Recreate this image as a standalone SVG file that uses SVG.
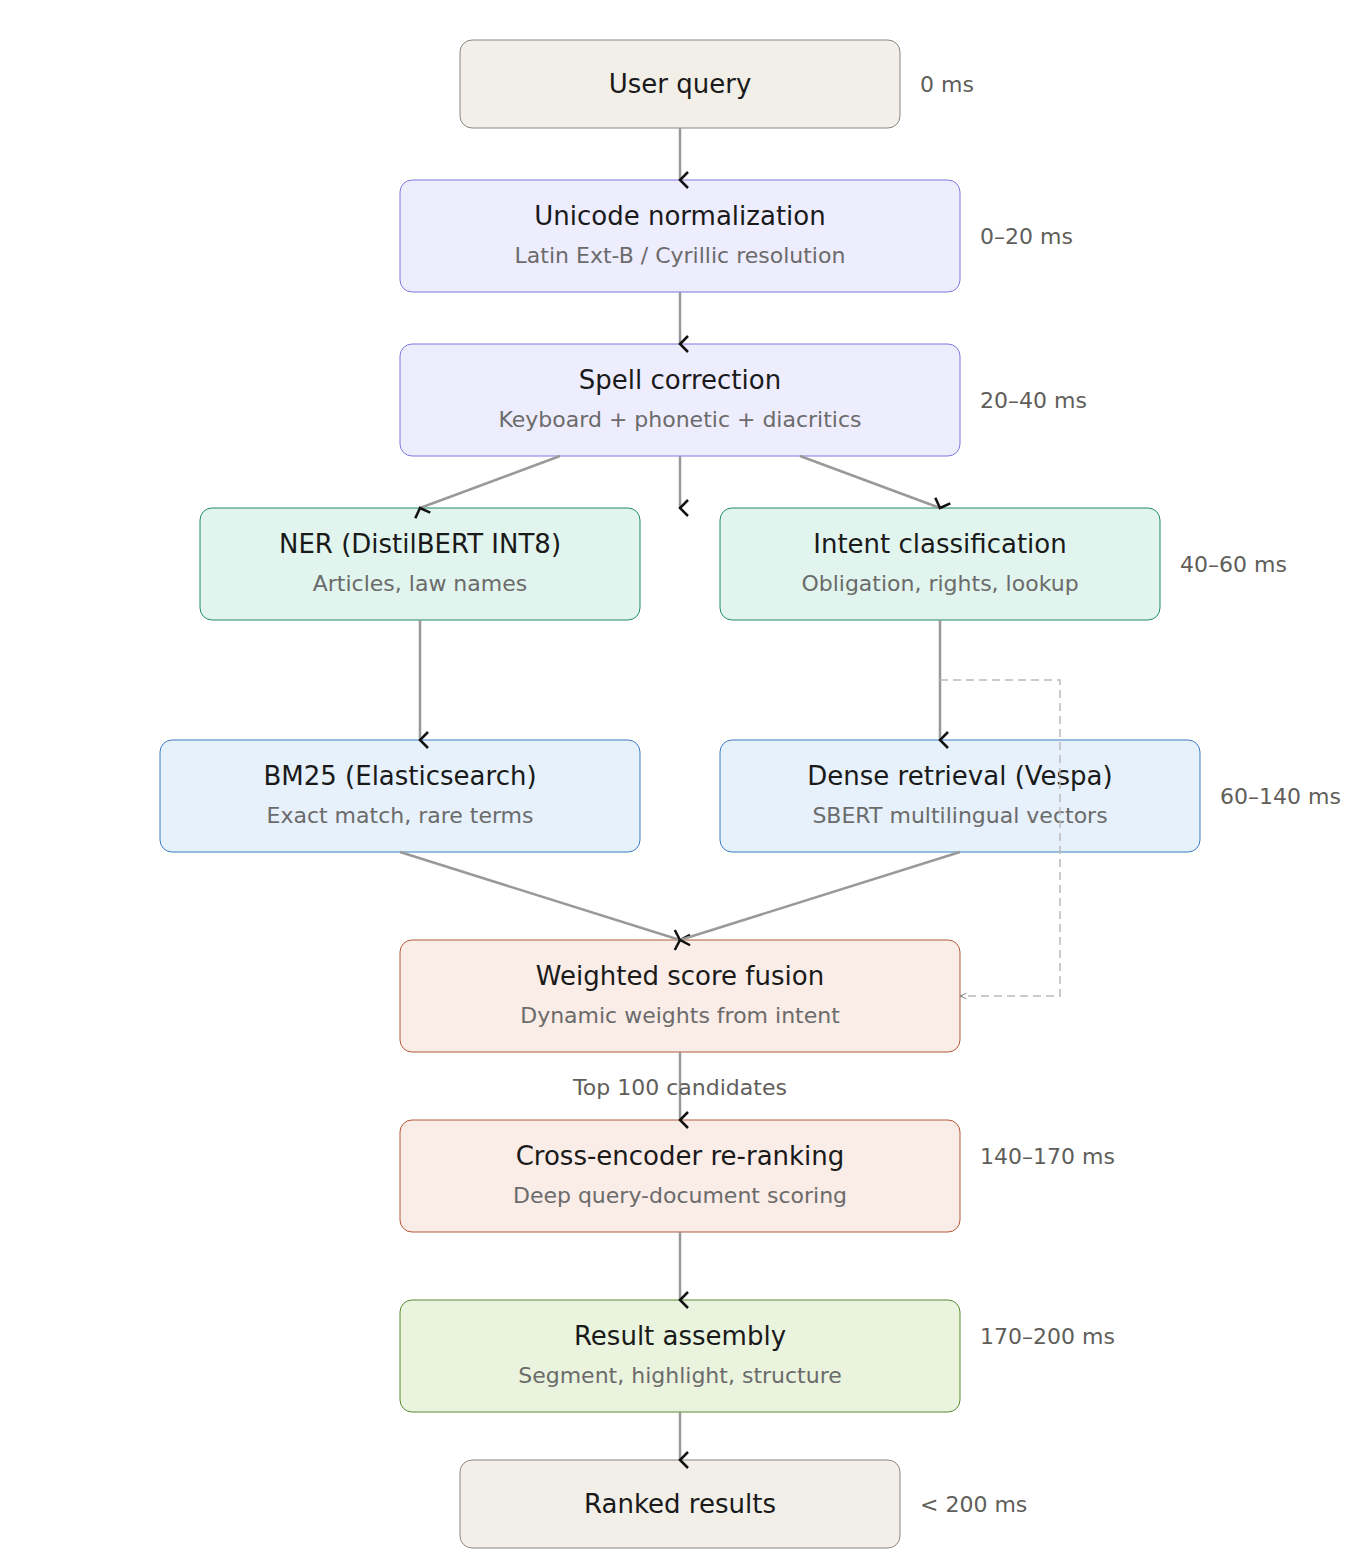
<svg xmlns="http://www.w3.org/2000/svg" width="1360" height="1560" viewBox="0 0 1360 1560">
<style>
text{font-family:"DejaVu Sans",sans-serif}
.t{font-size:26px;fill:#1a1a1a;text-anchor:middle}
.s{font-size:22px;fill:#6b6b6b;text-anchor:middle}
.l{font-size:22px;fill:#5f5e5a}
.c{stroke:#999;stroke-width:2.5;fill:none;marker-end:url(#a)}
.gray{fill:#f1efe8;stroke:#8a8880}
.pur{fill:#eeedfe;stroke:#7f77dd}
.grn{fill:#e1f5ee;stroke:#1d8a6a}
.blu{fill:#e6f1fb;stroke:#3a7cc0}
.cor{fill:#faece7;stroke:#b05a3a}
.lim{fill:#eaf3de;stroke:#5a8a30}
rect{stroke-width:1}
</style>
<defs>
<marker id="a" viewBox="0 0 20 20" refX="10" refY="18" markerWidth="20" markerHeight="20" markerUnits="userSpaceOnUse" orient="auto-start-reverse">
<path d="M2 10 L10 18 L18 10" fill="none" stroke="#111" stroke-width="2.5" transform="rotate(0)"/>
</marker>
<marker id="b" viewBox="0 0 10 10" refX="9" refY="5" markerWidth="6" markerHeight="6" orient="auto">
<path d="M2 2 L9 5 L2 8" fill="none" stroke="#777" stroke-width="1"/>
</marker>
</defs>
<g id="n1"><rect class="gray" x="460" y="40" width="440" height="88" rx="12"/><text class="t" x="680" y="93">User query</text></g>
<g id="n2"><rect class="pur" x="400" y="180" width="560" height="112" rx="12"/><text class="t" x="680" y="225">Unicode normalization</text><text class="s" x="680" y="263">Latin Ext-B / Cyrillic resolution</text></g>
<g id="n3"><rect class="pur" x="400" y="344" width="560" height="112" rx="12"/><text class="t" x="680" y="389">Spell correction</text><text class="s" x="680" y="427">Keyboard + phonetic + diacritics</text></g>
<g id="n4"><rect class="grn" x="200" y="508" width="440" height="112" rx="12"/><text class="t" x="420" y="553">NER (DistilBERT INT8)</text><text class="s" x="420" y="591">Articles, law names</text></g>
<g id="n5"><rect class="grn" x="720" y="508" width="440" height="112" rx="12"/><text class="t" x="940" y="553">Intent classification</text><text class="s" x="940" y="591">Obligation, rights, lookup</text></g>
<g id="n6"><rect class="blu" x="160" y="740" width="480" height="112" rx="12"/><text class="t" x="400" y="785">BM25 (Elasticsearch)</text><text class="s" x="400" y="823">Exact match, rare terms</text></g>
<g id="n7"><rect class="blu" x="720" y="740" width="480" height="112" rx="12"/><text class="t" x="960" y="785">Dense retrieval (Vespa)</text><text class="s" x="960" y="823">SBERT multilingual vectors</text></g>
<g id="n8"><rect class="cor" x="400" y="940" width="560" height="112" rx="12"/><text class="t" x="680" y="985">Weighted score fusion</text><text class="s" x="680" y="1023">Dynamic weights from intent</text></g>
<g id="n9"><rect class="cor" x="400" y="1120" width="560" height="112" rx="12"/><text class="t" x="680" y="1165">Cross-encoder re-ranking</text><text class="s" x="680" y="1203">Deep query-document scoring</text></g>
<g id="n10"><rect class="lim" x="400" y="1300" width="560" height="112" rx="12"/><text class="t" x="680" y="1345">Result assembly</text><text class="s" x="680" y="1383">Segment, highlight, structure</text></g>
<g id="n11"><rect class="gray" x="460" y="1460" width="440" height="88" rx="12"/><text class="t" x="680" y="1513">Ranked results</text></g>
<g id="labels">
<text class="l" x="920" y="92">0 ms</text>
<text class="l" x="980" y="244">0–20 ms</text>
<text class="l" x="980" y="408">20–40 ms</text>
<text class="l" x="1180" y="572">40–60 ms</text>
<text class="l" x="1220" y="804">60–140 ms</text>
<text class="l" x="980" y="1164">140–170 ms</text>
<text class="l" x="980" y="1344">170–200 ms</text>
<text class="l" x="920" y="1512">&lt; 200 ms</text>
</g>
<g id="connectors">
<line class="c" x1="680" y1="128" x2="680" y2="180"/>
<line class="c" x1="680" y1="292" x2="680" y2="344"/>
<line class="c" x1="560" y1="456" x2="420" y2="508"/>
<line class="c" x1="680" y1="456" x2="680" y2="508"/>
<line class="c" x1="800" y1="456" x2="940" y2="508"/>
<line class="c" x1="420" y1="620" x2="420" y2="740"/>
<line class="c" x1="940" y1="620" x2="940" y2="740"/>
<line class="c" x1="400" y1="852" x2="680" y2="940"/>
<line class="c" x1="960" y1="852" x2="680" y2="940"/>
<line class="c" x1="680" y1="1052" x2="680" y2="1120"/>
<line class="c" x1="680" y1="1232" x2="680" y2="1300"/>
<line class="c" x1="680" y1="1412" x2="680" y2="1460"/>
<polyline points="940,680 1060,680 1060,996 960,996" fill="none" stroke="#bbb" stroke-width="1.5" stroke-dasharray="8 5" marker-end="url(#b)"/>
<text class="l" x="680" y="1095" text-anchor="middle">Top 100 candidates</text>
</g>
</svg>
